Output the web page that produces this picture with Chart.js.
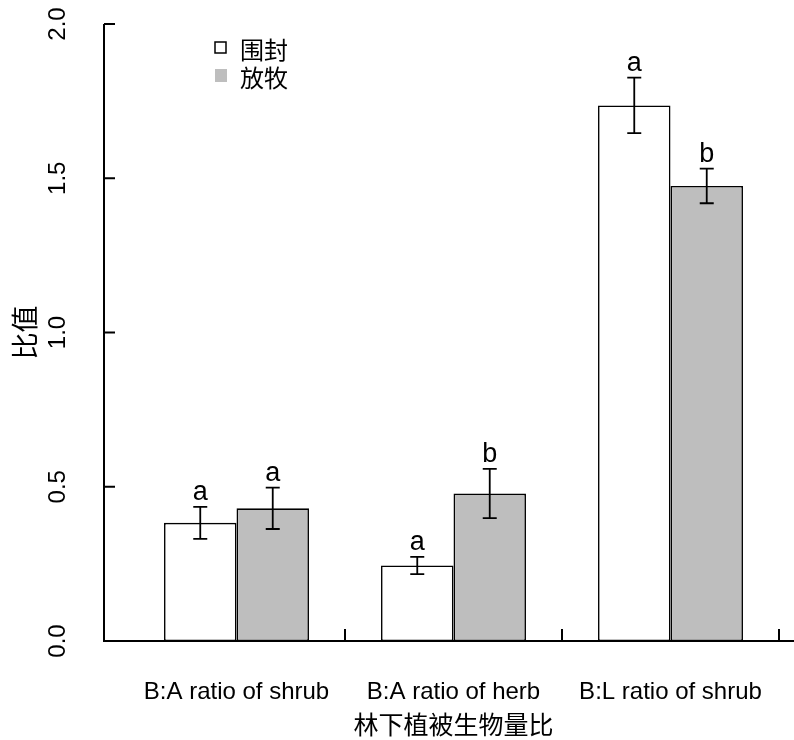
<!DOCTYPE html>
<html>
<head>
<meta charset="utf-8">
<script src="https://cdn.jsdelivr.net/npm/chart.js@4"></script>
<style>
  body { margin: 0; background: #fff; }
  canvas { display: block; }
</style>
</head>
<body>
<canvas id="chart" width="794" height="740"></canvas>
<script>
// Data
const categories = ['B:A ratio of shrub', 'B:A ratio of herb', 'B:L ratio of shrub'];
const fencedMeans = [0.383, 0.245, 1.736];
const fencedErr = [0.052, 0.028, 0.090];
const grazedMeans = [0.430, 0.478, 1.475];
const grazedErr = [0.067, 0.080, 0.056];
const fencedLetters = ['a', 'a', 'a'];
const grazedLetters = ['a', 'b', 'b'];
const yTickValues = [0, 0.5, 1, 1.5, 2];
const yTickLabels = ['0.0', '0.5', '1.0', '1.5', '2.0'];

const latin = 'Liberation Sans, Arial, sans-serif';
const cjk = '"Noto Sans CJK SC", sans-serif';

// R-style axes, error bars, letters and legend
const rStyle = {
  id: 'rStyle',
  afterDraw(chart) {
    const ctx = chart.ctx;
    const xs = chart.scales.x;
    const ys = chart.scales.y;
    const axisX = chart.chartArea.left - 24;
    const y0 = ys.getPixelForValue(0);
    ctx.save();
    ctx.strokeStyle = '#000';
    ctx.fillStyle = '#000';
    ctx.lineWidth = 2;

    // y axis
    ctx.beginPath();
    ctx.moveTo(axisX, ys.getPixelForValue(2));
    ctx.lineTo(axisX, y0);
    yTickValues.forEach(v => {
      const p = ys.getPixelForValue(v);
      ctx.moveTo(axisX, p);
      ctx.lineTo(axisX + 11, p);
    });
    ctx.stroke();

    ctx.font = '24px ' + latin;
    ctx.textAlign = 'center';
    ctx.textBaseline = 'middle';
    yTickValues.forEach((v, i) => {
      ctx.save();
      ctx.translate(58, ys.getPixelForValue(v));
      ctx.rotate(-Math.PI / 2);
      ctx.fillText(yTickLabels[i], 0, 0);
      ctx.restore();
    });
    ctx.save();
    ctx.font = '27px ' + cjk;
    ctx.translate(25, (ys.getPixelForValue(0) + ys.getPixelForValue(2)) / 2);
    ctx.rotate(-Math.PI / 2);
    ctx.fillText('比值', 0, 0);
    ctx.restore();

    // x axis
    const half = (xs.getPixelForValue(1) - xs.getPixelForValue(0)) / 2;
    ctx.beginPath();
    ctx.moveTo(axisX - 1, y0);
    ctx.lineTo(chart.width, y0);
    categories.forEach((c, i) => {
      const p = xs.getPixelForValue(i) + half;
      ctx.moveTo(p, y0);
      ctx.lineTo(p, y0 - 12);
    });
    ctx.stroke();

    ctx.font = '24px ' + latin;
    categories.forEach((c, i) => {
      ctx.fillText(c, xs.getPixelForValue(i), 692);
    });
    ctx.font = '25px ' + cjk;
    ctx.fillText('林下植被生物量比', xs.getPixelForValue(1), 724);

    // error bars and letters
    ctx.lineWidth = 1.8;
    chart.data.datasets.forEach((ds, d) => {
      const meta = chart.getDatasetMeta(d);
      meta.data.forEach((bar, i) => {
        const top = ys.getPixelForValue(ds.data[i] + ds.err[i]);
        const bot = ys.getPixelForValue(ds.data[i] - ds.err[i]);
        ctx.beginPath();
        ctx.moveTo(bar.x, top);
        ctx.lineTo(bar.x, bot);
        ctx.moveTo(bar.x - 7, top);
        ctx.lineTo(bar.x + 7, top);
        ctx.moveTo(bar.x - 7, bot);
        ctx.lineTo(bar.x + 7, bot);
        ctx.stroke();
        ctx.font = '27px ' + latin;
        ctx.textBaseline = 'alphabetic';
        ctx.fillText(ds.letters[i], bar.x, top - 7);
      });
    });

    // legend
    ctx.lineWidth = 1.5;
    ctx.fillStyle = '#fff';
    ctx.fillRect(215, 42, 11, 11);
    ctx.strokeRect(215, 42, 11, 11);
    ctx.fillStyle = '#bebebe';
    ctx.fillRect(215, 69, 12, 13);
    ctx.fillStyle = '#000';
    ctx.font = '24px ' + cjk;
    ctx.textAlign = 'left';
    ctx.textBaseline = 'middle';
    ctx.fillText(chart.data.datasets[0].label, 240, 50);
    ctx.fillText(chart.data.datasets[1].label, 240, 78);
    ctx.restore();
  }
};

new Chart(document.getElementById('chart'), {
  type: 'bar',
  data: {
    labels: categories,
    datasets: [{
      label: '围封',
      data: fencedMeans,
      err: fencedErr,
      letters: fencedLetters,
      backgroundColor: '#ffffff',
      borderColor: '#000000',
      borderWidth: 1.6,
      borderSkipped: false
    }, {
      label: '放牧',
      data: grazedMeans,
      err: grazedErr,
      letters: grazedLetters,
      backgroundColor: '#bebebe',
      borderColor: '#000000',
      borderWidth: 1.6,
      borderSkipped: false
    }]
  },
  options: {
    responsive: false,
    animation: false,
    devicePixelRatio: 1,
    categoryPercentage: 0.668,
    barPercentage: 1,
    layout: { padding: { top: 24, right: 15, left: 0, bottom: 0 } },
    plugins: {
      legend: { display: false },
      tooltip: { enabled: false }
    },
    scales: {
      x: {
        offset: true,
        grid: { display: false },
        border: { display: false },
        ticks: { display: false },
        afterFit: s => { s.height = 99; }
      },
      y: {
        min: 0,
        max: 2,
        grid: { display: false },
        border: { display: false },
        ticks: { display: false, stepSize: 0.5 },
        afterFit: s => { s.width = 128; }
      }
    }
  },
  plugins: [rStyle]
});
</script>
</body>
</html>
